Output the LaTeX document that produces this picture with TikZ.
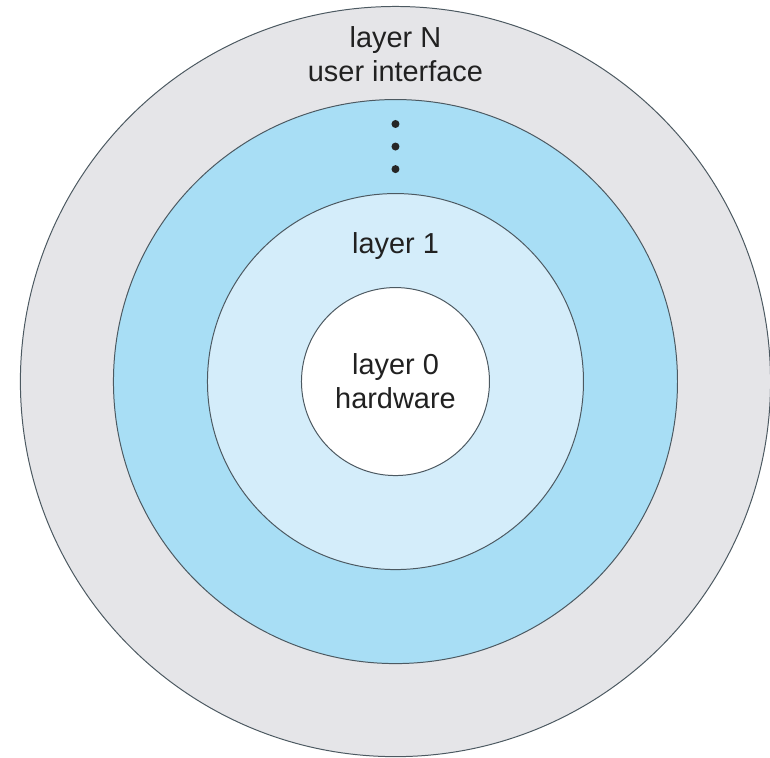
\documentclass[tikz,border=0pt]{standalone}
\usepackage{fontspec}
\setmainfont{Liberation Sans}
\usepackage{tikz}
\usetikzlibrary{positioning,shapes}
\definecolor{colorouter}{rgb}{0.90, 0.90, 0.91}
\definecolor{colormiddle}{rgb}{0.66, 0.87, 0.96}
\definecolor{colorinner}{rgb}{0.83, 0.93, 0.98}
\definecolor{colorline}{rgb}{0.30, 0.35, 0.38}
\definecolor{colortext}{rgb}{0.13, 0.13, 0.13}
\tikzstyle{layer}=[circle, draw=colorline, line width=0.6pt, inner sep=0pt]
\tikzstyle{layertext}=[align=center, inner sep=0pt, text=colortext, font=\fontsize{17.5}{20.5}\selectfont]
\tikzstyle{dot}=[circle, fill=black!85, inner sep=0pt, minimum size=0.17cm]

\begin{document}
\begin{tikzpicture}[x=2cm, y=2cm]
	\useasboundingbox (-4.207, -3.995) rectangle (3.984, 4.059);
	
	\node[layer, fill=colorouter, minimum size=15.96cm] at (0, 0) (lN) {};
	\node[layer, fill=colormiddle, minimum size=12cm] at (0, 0) (lM) {};
	\node[layer, fill=colorinner, minimum size=8cm] at (0, 0) (l1) {};
	\node[layer, fill=white, minimum size=4cm] at (0, 0) (l0) {};
	
	\node[layertext] at (0, 3.48) (tN) {layer N\\user interface};
	\node[dot] at (0, 2.74) (d1) {};
	\node[dot] at (0, 2.50) (d2) {};
	\node[dot] at (0, 2.26) (d3) {};
	\node[layertext] at (0, 1.44) (t1) {layer 1};
	\node[layertext] at (0, 0) (t0) {layer 0\\hardware};
	
\end{tikzpicture}
\end{document}
